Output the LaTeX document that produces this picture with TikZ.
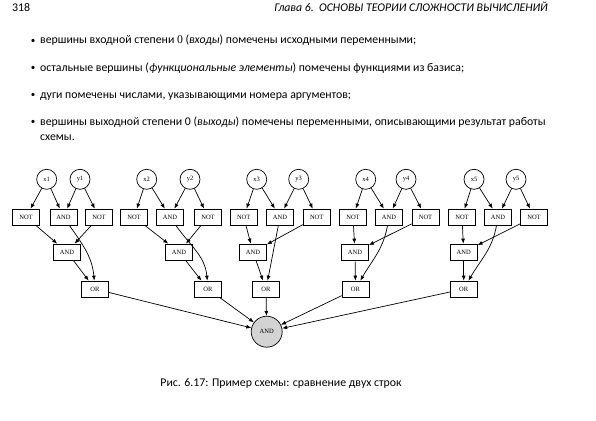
\documentclass[tikz,border=0pt]{standalone}
\usepackage{fontspec}
\setmainfont{Carlito}
\newfontfamily\gvfont{Liberation Serif}
\usetikzlibrary{positioning}
\usetikzlibrary{arrows.meta}
\definecolor{gvgray}{HTML}{D3D3D3}

\tikzset{
  gate/.style={draw,rectangle,minimum width=27pt,minimum height=16pt,inner sep=0pt,line width=0.7pt,font=\gvfont\fontsize{6.5}{7}\selectfont},
  var/.style={draw,circle,minimum size=20pt,inner sep=0pt,line width=0.7pt,font=\gvfont\fontsize{6.5}{7}\selectfont},
  wire/.style={-{Latex[length=5pt,width=4pt]},line width=0.7pt},
  txt/.style={anchor=base west,inner sep=0pt,font=\fontsize{11.8}{14}\selectfont},
}

\begin{document}
\begin{tikzpicture}[x=1pt,y=-1pt]
	\useasboundingbox (0,0) rectangle (596,420);
	% page header
	\node[txt] (pnum) at (12,12) {318};
	\node[txt,anchor=base east,font=\itshape\fontsize{11.8}{14}\selectfont] (head) at (548,12) {Глава 6.\ \ ОСНОВЫ ТЕОРИИ СЛОЖНОСТИ ВЫЧИСЛЕНИЙ};
	% bullet list
	\foreach \k/\yb in {1/43.5,2/70.5,3/97.5,4/124.5}
		\node[txt,anchor=base,font=\fontsize{9}{10}\selectfont] (dot\k) at (33,\yb) {\textbullet};
	\node[txt] (item1) at (40,44) {вершины входной степени {\gvfont 0} (\textit{входы}) помечены исходными переменными;};
	\node[txt] (item2) at (40,71) {остальные вершины (\textit{функциональные элементы}) помечены функциями из базиса;};
	\node[txt] (item3) at (40,98) {дуги помечены числами, указывающими номера аргументов;};
	\node[txt] (item4) at (40,125) {вершины выходной степени 0 (\textit{выходы}) помечены переменными, описывающими результат работы};
	\node[txt] (item4b) at (40,140) {схемы.};

	% five comparison blocks
	\foreach \i/\xa/\ya/\nl/\at/\nr/\am/\oc in {1/46.7/80/26/63.5/99/67/95, 2/146.7/190/134/170/208/179/208, 3/256.7/298.7/243.7/280/316.7/253/266, 4/365.7/406/353/389/425.5/355/355.5, 5/474/516/462/498/534/463.7/463.7} {
		\node[var] (x\i) at (\xa,179.3) {x\i};
		\node[var] (y\i) at (\ya,179.3) {y\i};
		\node[gate] (nl\i) at (\nl,217) {NOT};
		\node[gate] (at\i) at (\at,217) {AND};
		\node[gate] (nr\i) at (\nr,217) {NOT};
		\node[gate] (am\i) at (\am,252) {AND};
		\node[gate] (or\i) at (\oc,289) {OR};
		\draw[wire] (x\i) -- (nl\i);
		\draw[wire] (x\i) -- (at\i);
		\draw[wire] (y\i) -- (at\i);
		\draw[wire] (y\i) -- (nr\i);
		\draw[wire] (nl\i) -- (am\i);
		\draw[wire] (nr\i) -- (am\i);
		\draw[wire] (am\i) -- (or\i);
	}
	% AND -> OR arcs
	\draw[wire] (at1) to[out=-55,in=95] (or1);
	\draw[wire] (at2) to[out=-55,in=95] (or2);
	\draw[wire] (at3) -- (or3);
	\draw[wire] (at4) to[out=-100,in=60] (or4);
	\draw[wire] (at5) to[out=-100,in=60] (or5);

	% output
	\node[var,minimum size=31pt,fill=gvgray] (fin) at (266.7,331.7) {AND};
	\foreach \i in {1,...,5}
		\draw[wire] (or\i) -- (fin);

	% caption
	\node[txt,anchor=base] (cap) at (281,386) {Рис. 6.17: Пример схемы: сравнение двух строк};
\end{tikzpicture}
\end{document}
